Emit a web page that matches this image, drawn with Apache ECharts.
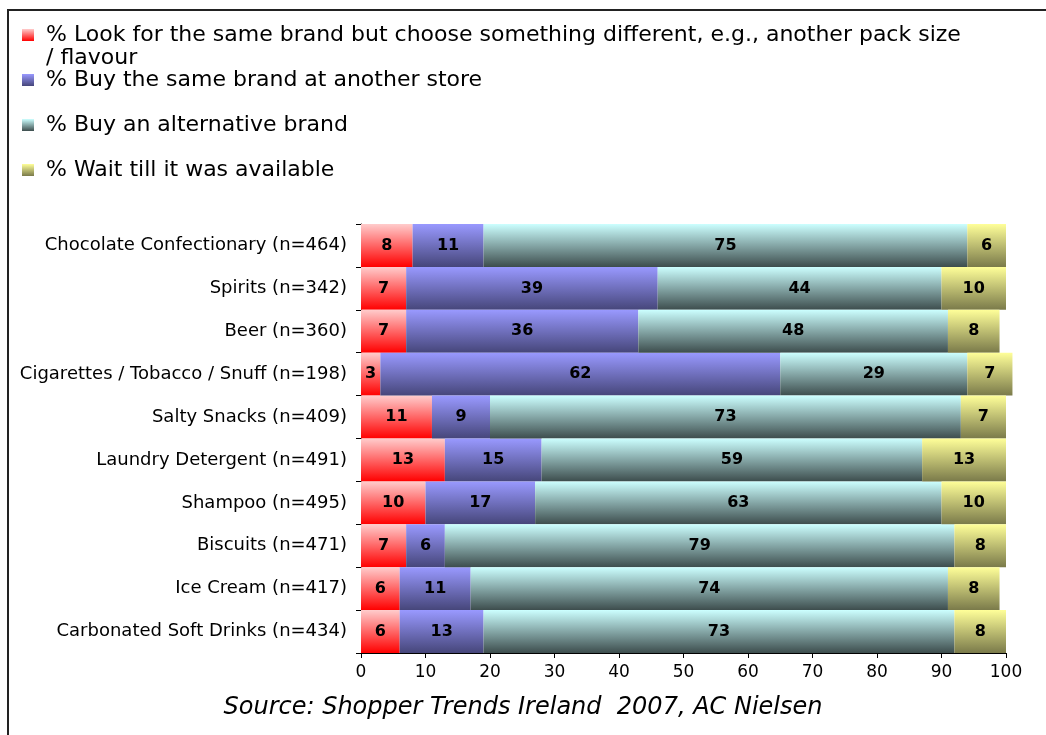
<!DOCTYPE html>
<html>
<head>
<meta charset="utf-8">
<script src="https://cdn.jsdelivr.net/npm/echarts@6/dist/echarts.min.js"></script>
<style>
  html, body { margin: 0; padding: 0; background: #fff; }
  #chart { width: 1046px; height: 735px; }
</style>
</head>
<body>
<div id="chart"></div>
<script>
const categories = [
  'Chocolate Confectionary (n=464)',
  'Spirits (n=342)',
  'Beer (n=360)',
  'Cigarettes / Tobacco / Snuff (n=198)',
  'Salty Snacks (n=409)',
  'Laundry Detergent (n=491)',
  'Shampoo (n=495)',
  'Biscuits (n=471)',
  'Ice Cream (n=417)',
  'Carbonated Soft Drinks (n=434)'
];
const seriesNames = [
  '% Look for the same brand but choose something different, e.g., another pack size / flavour',
  '% Buy the same brand at another store',
  '% Buy an alternative brand',
  '% Wait till it was available'
];
const sameBrandOther = [8, 7, 7, 3, 11, 13, 10, 7, 6, 6];
const otherStore = [11, 39, 36, 62, 9, 15, 17, 6, 11, 13];
const altBrand = [75, 44, 48, 29, 73, 59, 63, 79, 74, 73];
const waitAvailable = [6, 10, 8, 7, 7, 13, 10, 8, 8, 8];

const font = 'DejaVu Sans, Verdana, sans-serif';

function grad(top, bottom) {
  return new echarts.graphic.LinearGradient(0, 0, 0, 1, [
    { offset: 0, color: top },
    { offset: 1, color: bottom }
  ]);
}
const colors = [
  grad('#ffcccc', '#ff0000'),
  grad('#9999ff', '#46467a'),
  grad('#ccffff', '#3d4d4d'),
  grad('#ffff99', '#7a7a4a')
];
const values = [sameBrandOther, otherStore, altBrand, waitAvailable];

const chart = echarts.init(document.getElementById('chart'));

// legend items sit at uneven heights, like the original, so one legend each
const legendTops = [24, 69, 114, 159];
const legends = seriesNames.map((name, i) => ({
  data: [name],
  left: 22,
  top: legendTops[i],
  padding: 0,
  icon: 'rect',
  itemWidth: 12,
  itemHeight: 12,
  itemGap: 0,
  selectedMode: false,
  textStyle: { fontFamily: font, fontSize: 22, color: '#000', padding: [0, 0, 0, 7] },
  formatter: i === 0 ? () => '% Look for the same brand but choose something different, e.g., another pack size' : undefined
}));

chart.setOption({
  animation: false,
  textStyle: { fontFamily: font },
  legend: legends,
  grid: { left: 361, right: 40, top: 224, bottom: 82, containLabel: false },
  xAxis: {
    type: 'value',
    min: 0,
    max: 100,
    interval: 10,
    axisLine: { show: true, lineStyle: { color: '#000', width: 1 } },
    axisTick: { show: true, length: 5, lineStyle: { color: '#000' } },
    splitLine: { show: false },
    axisLabel: { fontSize: 17, color: '#000', margin: 11, fontFamily: font }
  },
  yAxis: {
    type: 'category',
    inverse: true,
    data: categories,
    axisLine: { show: true, lineStyle: { color: '#000', width: 1 } },
    axisTick: { show: true, length: 5, lineStyle: { color: '#000' } },
    axisLabel: { fontSize: 18, color: '#000', margin: 14, fontFamily: font }
  },
  series: seriesNames.map((name, i) => ({
    name: name,
    type: 'bar',
    stack: 'total',
    clip: false,
    barCategoryGap: '0%',
    data: values[i],
    itemStyle: { color: colors[i] },
    label: {
      show: true,
      position: 'inside',
      color: '#000',
      fontWeight: 'bold',
      fontSize: 16,
      fontFamily: font
    }
  })),
  graphic: [
    {
      type: 'rect',
      shape: { x: 8, y: 10, width: 1200, height: 900 },
      style: { fill: 'none', stroke: '#222', lineWidth: 2 },
      silent: true
    },
    {
      type: 'text',
      left: 46,
      top: 47,
      style: { text: '/ flavour', fontFamily: font, fontSize: 22, fill: '#000' }
    },
    {
      type: 'text',
      left: 'center',
      top: 696,
      style: {
        text: 'Source: Shopper Trends Ireland  2007, AC Nielsen',
        fontFamily: font,
        fontStyle: 'italic',
        fontSize: 24,
        fill: '#000'
      }
    }
  ]
});
</script>
</body>
</html>
